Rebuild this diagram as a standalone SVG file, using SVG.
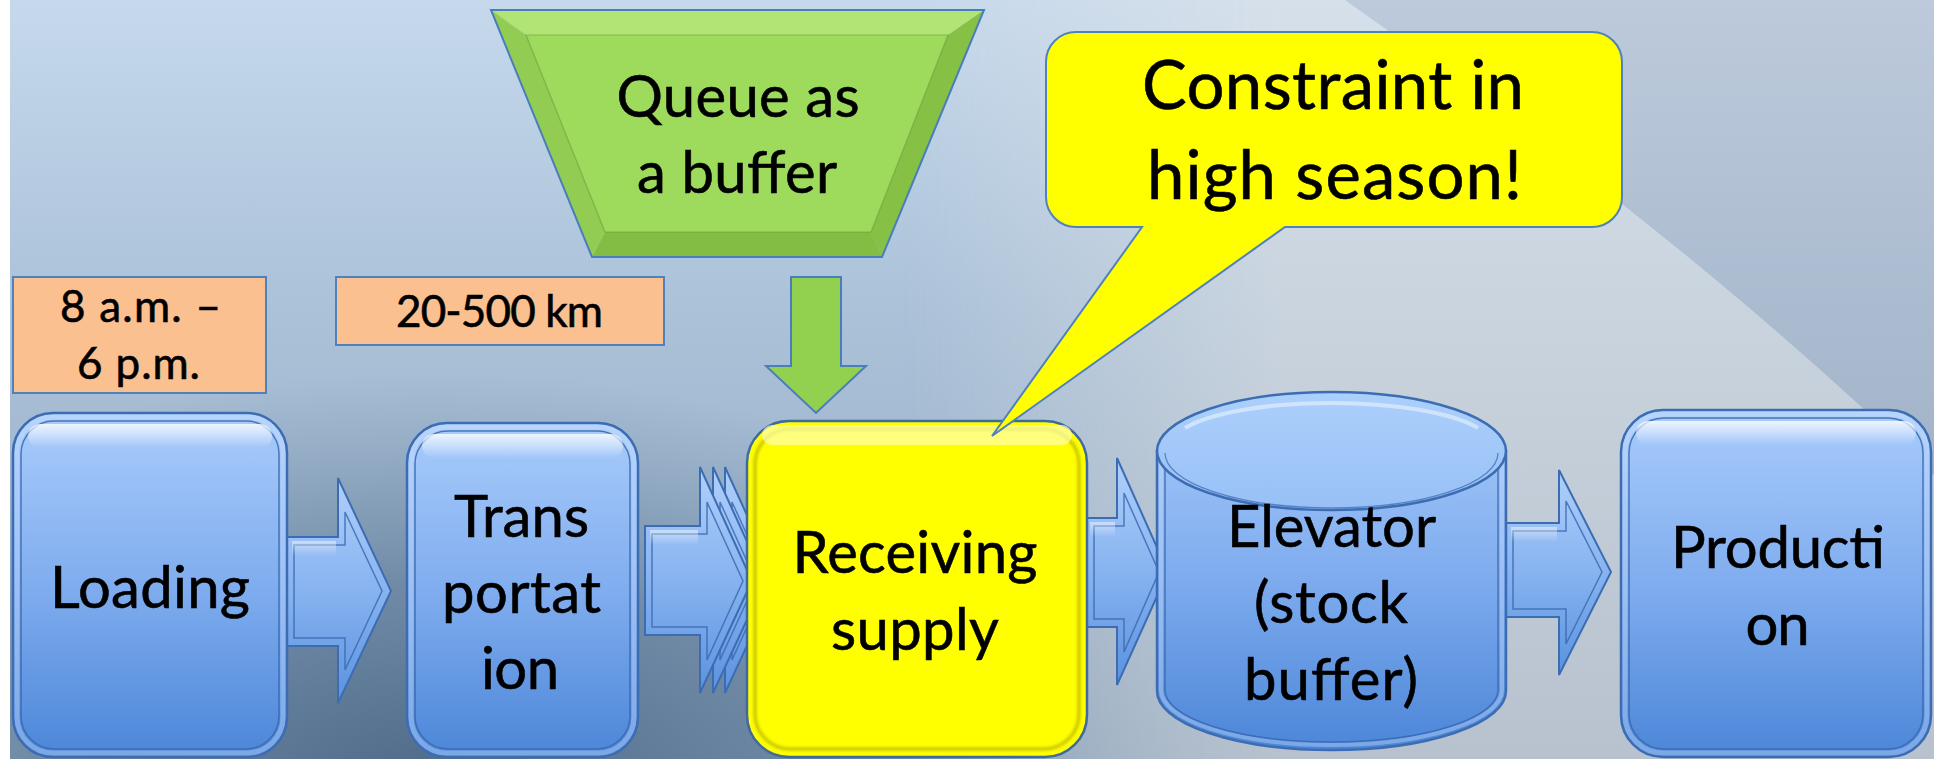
<svg xmlns="http://www.w3.org/2000/svg" width="1934" height="759" viewBox="0 0 1934 759">
<defs>
<linearGradient id="bgBase" x1="0" y1="0" x2="0" y2="759" gradientUnits="userSpaceOnUse">
<stop offset="0" stop-color="#c6d9ec"/><stop offset="0.4" stop-color="#abc2d9"/><stop offset="1" stop-color="#91a8c0"/>
</linearGradient>
<radialGradient id="bgDark" cx="430" cy="790" r="760" gradientUnits="userSpaceOnUse" gradientTransform="translate(430 790) scale(1 0.55) translate(-430 -790)">
<stop offset="0" stop-color="#4d6987" stop-opacity="1"/><stop offset="0.5" stop-color="#5a7694" stop-opacity="0.65"/><stop offset="1" stop-color="#6d88a4" stop-opacity="0"/>
</radialGradient>
<linearGradient id="wedgeCol" x1="0" y1="0" x2="0" y2="759" gradientUnits="userSpaceOnUse">
<stop offset="0" stop-color="#d6e0ea"/><stop offset="1" stop-color="#b7c2ce"/>
</linearGradient>
<linearGradient id="wedgeMaskG" x1="900" y1="0" x2="1280" y2="0" gradientUnits="userSpaceOnUse">
<stop offset="0" stop-color="#fff" stop-opacity="0"/><stop offset="1" stop-color="#fff" stop-opacity="1"/>
</linearGradient>
<mask id="wedgeMask" maskUnits="userSpaceOnUse" x="0" y="0" width="1934" height="759">
<rect x="0" y="0" width="1934" height="759" fill="url(#wedgeMaskG)"/>
</mask>
<linearGradient id="rightCol" x1="0" y1="0" x2="0" y2="480" gradientUnits="userSpaceOnUse">
<stop offset="0" stop-color="#bccadb"/><stop offset="1" stop-color="#a2b3c9"/>
</linearGradient>
<linearGradient id="gBlue" x1="0" y1="0" x2="0" y2="1">
<stop offset="0" stop-color="#a9ccfb"/><stop offset="0.5" stop-color="#80adef"/><stop offset="1" stop-color="#4c86d8"/>
</linearGradient>
<linearGradient id="gArr" x1="0" y1="0" x2="0" y2="1">
<stop offset="0" stop-color="#b0d0fb"/><stop offset="0.5" stop-color="#87b3f0"/><stop offset="1" stop-color="#5a92de"/>
</linearGradient>
<linearGradient id="gHi" x1="0" y1="0" x2="0" y2="1">
<stop offset="0" stop-color="#ffffff" stop-opacity="0.8"/><stop offset="1" stop-color="#ffffff" stop-opacity="0"/>
</linearGradient>
<linearGradient id="gCyl" x1="0" y1="392" x2="0" y2="750" gradientUnits="userSpaceOnUse">
<stop offset="0" stop-color="#a9ccfb"/><stop offset="0.5" stop-color="#80adef"/><stop offset="1" stop-color="#4c86d8"/>
</linearGradient>
<linearGradient id="gCylTop" x1="0" y1="0" x2="0" y2="1">
<stop offset="0" stop-color="#acd0fc"/><stop offset="1" stop-color="#98c0f6"/>
</linearGradient>
<filter id="soft" x="-5%" y="-5%" width="110%" height="110%"><feGaussianBlur stdDeviation="1.5"/></filter>
<style>
.lbl{font-family:Lato,"Liberation Sans",sans-serif;fill:#000;stroke:#000;stroke-width:0.6;text-anchor:middle}
.main{font-size:58px}
.big{font-size:67px}
.small{font-size:44px}
.box{fill:url(#gBlue);stroke:#3c6db3;stroke-width:2.5}
.rim{fill:none;stroke:#d4e6ff;stroke-opacity:0.35;stroke-width:5}
.bevelIn{fill:none;stroke:#3767ae;stroke-width:1.5;stroke-opacity:0.85}
.hi{fill:url(#gHi)}
.arr{fill:url(#gArr);stroke:#3c6db3;stroke-width:2}
.arrIn{fill:none;stroke:#3767ae;stroke-width:1.5;stroke-opacity:0.8}
.note{fill:#fac090;stroke:#4f81bd;stroke-width:2}
</style>
</defs>

<!-- background -->
<g id="background">
<rect x="0" y="0" width="1934" height="759" fill="url(#bgBase)"/>
<rect x="0" y="0" width="1934" height="759" fill="url(#bgDark)"/>
<path d="M700,0 L1345,0 C1500,110 1700,250 1934,475 L1934,759 L700,759 Z" fill="url(#wedgeCol)" mask="url(#wedgeMask)"/>
<path d="M1345,0 C1500,110 1700,250 1934,475 L1934,0 Z" fill="url(#rightCol)"/>
<rect x="0" y="0" width="10" height="759" fill="#ffffff"/>
</g>

<!-- connectors -->
<g id="connectors">
<path class="arr" d="M287,537 H338 V478 L391,591 L338,703 V646 H287 Z"/>
<path class="arrIn" d="M294,545 H345 V512 L382,591 L345,670 V638 H294 Z"/>
<path class="hi" d="M292,541 H336 V556 H292 Z" opacity="0.6"/>

<path class="arr" d="M670,526 H725 V467 L777,581 L725,693 V635 H670 Z"/>
<path class="arrIn" d="M677,534 H732 V502 L768,581 L732,660 V627 H677 Z"/>
<path class="arr" d="M658,526 H713 V467 L765,581 L713,693 V635 H658 Z"/>
<path class="arrIn" d="M665,534 H720 V502 L756,581 L720,660 V627 H665 Z"/>
<path class="arr" d="M645,526 H700 V467 L752,581 L700,693 V635 H645 Z"/>
<path class="arrIn" d="M652,534 H707 V502 L743,581 L707,660 V627 H652 Z"/>
<path class="hi" d="M650,530 H698 V545 H650 Z" opacity="0.6"/>

<path class="arr" d="M1087,518 H1117 V458 L1168,572 L1117,685 V627 H1087 Z"/>
<path class="arrIn" d="M1094,526 H1124 V493 L1159,572 L1124,652 V619 H1094 Z"/>
<path class="hi" d="M1090,522 H1115 V537 H1090 Z" opacity="0.6"/>

<path class="arr" d="M1506,523 H1559 V470 L1611,572 L1559,675 V617 H1506 Z"/>
<path class="arrIn" d="M1513,531 H1566 V501 L1602,572 L1566,644 V609 H1513 Z"/>
<path class="hi" d="M1511,527 H1557 V542 H1511 Z" opacity="0.6"/>

<path d="M791,277 H841 V366 H866 L816,413 L766,366 H791 Z" fill="#92d050" stroke="#4a7ebb" stroke-width="2"/>
</g>

<!-- notes -->
<g id="note-hours">
<rect class="note" x="13" y="277" width="253" height="116"/>
<text class="lbl small" x="140.5" y="322" textLength="161">8 a.m. –</text>
<text class="lbl small" x="138.5" y="379" textLength="123">6 p.m.</text>
</g>
<g id="note-distance">
<rect class="note" x="336" y="277" width="328" height="68"/>
<text class="lbl small" x="499.5" y="327" textLength="207">20-500 km</text>
</g>

<!-- queue trapezoid -->
<g id="queue">
<polygon points="491,10 984,10 948,35 526,35" fill="#b2e475"/>
<polygon points="984,10 882,257 871,232 948,35" fill="#86c146"/>
<polygon points="882,257 592,257 605,232 871,232" fill="#84bd43"/>
<polygon points="592,257 491,10 526,35 605,232" fill="#92cc52"/>
<polygon points="526,35 948,35 871,232 605,232" fill="#9edb5c" stroke="#5f902c" stroke-width="1.2" stroke-opacity="0.5"/>
<polygon points="491,10 984,10 882,257 592,257" fill="none" stroke="#4a7ebb" stroke-width="2"/>
<text class="lbl main" x="738" y="117" textLength="243">Queue as</text>
<text class="lbl main" x="737" y="193" textLength="200">a buffer</text>
</g>

<!-- process nodes -->
<g id="loading">
<rect class="box" x="13" y="413" width="274" height="344" rx="40"/>
<rect class="rim" x="17" y="417" width="266" height="336" rx="36"/>
<rect class="bevelIn" x="21" y="421" width="258" height="328" rx="33"/>
<rect class="hi" x="28" y="424" width="244" height="24" rx="12"/>
<text class="lbl main" x="150" y="608" textLength="200">Loading</text>
</g>

<g id="transportation">
<rect class="box" x="407" y="423" width="231" height="334" rx="40"/>
<rect class="rim" x="411" y="427" width="223" height="326" rx="36"/>
<rect class="bevelIn" x="415" y="431" width="215" height="318" rx="33"/>
<rect class="hi" x="422" y="434" width="201" height="24" rx="12"/>
<text class="lbl main" x="521.5" y="537" textLength="135">Trans</text>
<text class="lbl main" x="521.5" y="613" textLength="159">portat</text>
<text class="lbl main" x="520" y="689" textLength="78">ion</text>
</g>

<g id="receiving">
<rect x="747" y="421" width="340" height="336" rx="42" fill="#ffff00" stroke="#3f6a9e" stroke-width="2.5"/>
<rect x="755" y="429" width="324" height="320" rx="35" fill="none" stroke="#8f8a00" stroke-width="3" stroke-opacity="0.55" filter="url(#soft)"/>
<rect x="762" y="425" width="310" height="20" rx="10" fill="#ffffb0" opacity="0.7"/>
<text class="lbl main" x="915" y="573" textLength="245">Receiving</text>
<text class="lbl main" x="915" y="650" textLength="168">supply</text>
</g>

<g id="elevator">
<path d="M1157,451 V691 A174.5,59 0 0 0 1506,691 V451 Z" fill="url(#gCyl)" stroke="#3c6db3" stroke-width="2.5"/>
<path d="M1165,455 V690 A166.5,52 0 0 0 1498,690 V455" fill="none" stroke="#3767ae" stroke-width="1.5" stroke-opacity="0.8"/>
<path d="M1161,455 V690 A170.5,55 0 0 0 1502,690 V455" fill="none" stroke="#d4e6ff" stroke-opacity="0.35" stroke-width="4"/>
<ellipse cx="1331.5" cy="451" rx="174.5" ry="59" fill="url(#gCylTop)" stroke="#3c6db3" stroke-width="2.5"/>
<path d="M1165,453 A166.5,55 0 0 0 1498,453" fill="none" stroke="#3767ae" stroke-width="1.3" stroke-opacity="0.7"/>
<path d="M1185,428 A160,42 0 0 1 1478,428" fill="none" stroke="#ffffff" stroke-opacity="0.45" stroke-width="4"/>
<text class="lbl main" x="1331.5" y="547" textLength="209">Elevator</text>
<text class="lbl main" x="1331" y="623" textLength="154">(stock</text>
<text class="lbl main" x="1331" y="700" textLength="174">buffer)</text>
</g>

<g id="production">
<rect class="box" x="1621" y="410" width="310" height="347" rx="42"/>
<rect class="rim" x="1625" y="414" width="302" height="339" rx="38"/>
<rect class="bevelIn" x="1629" y="418" width="294" height="331" rx="35"/>
<rect class="hi" x="1636" y="421" width="280" height="24" rx="12"/>
<text class="lbl main" x="1778" y="568" textLength="214">Producti</text>
<text class="lbl main" x="1777.5" y="645" textLength="64">on</text>
</g>

<!-- callout -->
<g id="constraint">
<path d="M1076,32 H1592 A30,30 0 0 1 1622,62 V197 A30,30 0 0 1 1592,227 H1285 L992,436 L1142,227 H1076 A30,30 0 0 1 1046,197 V62 A30,30 0 0 1 1076,32 Z" fill="#ffff00" stroke="#4f81bd" stroke-width="2"/>
<text class="lbl big" x="1333" y="109" textLength="382">Constraint in</text>
<text class="lbl big" x="1334.5" y="199" textLength="375">high season!</text>
</g>
</svg>
